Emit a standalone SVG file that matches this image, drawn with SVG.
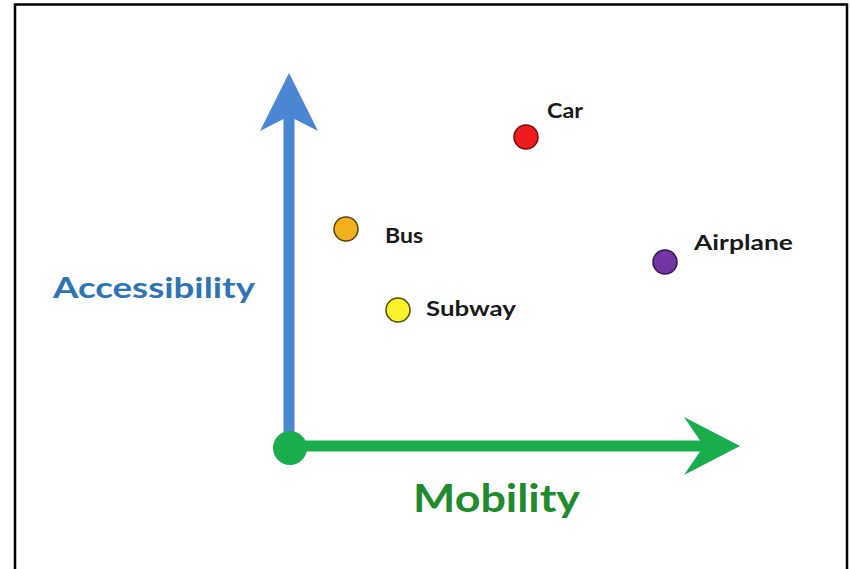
<svg xmlns="http://www.w3.org/2000/svg" width="850" height="569" viewBox="0 0 850 569">
  <style>
    .label { font-family: Lato, "Liberation Sans", sans-serif; font-weight: bold; font-size: 20px; fill: #1a1a1a; }
    .axis-label { font-family: Lato, "Liberation Sans", sans-serif; font-weight: bold; }
    .dot { stroke-width: 1.5; }
  </style>
  <rect x="0" y="0" width="850" height="569" fill="#ffffff"/>
  <!-- frame -->
  <rect x="15" y="4.5" width="832" height="600" fill="none" stroke="#000000" stroke-width="2.5"/>

  <g id="axes">
    <!-- vertical axis: accessibility -->
    <path id="axis-accessibility" d="M289,73 L318,131 L294.5,119 L294.5,446 L283.5,446 L283.5,119 L260,131 Z" fill="#4a86d1"/>
    <!-- horizontal axis: mobility -->
    <path id="axis-mobility" d="M740,446 L684,417 L700,440.5 L289,440.5 L289,451.5 L700,451.5 L684,475 Z" fill="#1aad4b"/>
    <circle id="origin" cx="290" cy="448" r="17" fill="#1aad4b"/>
  </g>

  <g id="axis-titles">
    <text class="axis-label" x="53" y="298" font-size="29" fill="#2e75b6" textLength="202" lengthAdjust="spacingAndGlyphs">Accessibility</text>
    <text class="axis-label" x="413" y="512" font-size="39" fill="#1e8b2c" textLength="167" lengthAdjust="spacingAndGlyphs">Mobility</text>
  </g>

  <g id="car">
    <circle class="dot" cx="526" cy="137" r="12" fill="#ee1c1c" stroke="#7a0a0a"/>
    <text class="label" x="547" y="118" textLength="36" lengthAdjust="spacingAndGlyphs">Car</text>
  </g>
  <g id="bus">
    <circle class="dot" cx="346" cy="229" r="12" fill="#f2b01e" stroke="#5a4306"/>
    <text class="label" x="385" y="243" textLength="38" lengthAdjust="spacingAndGlyphs">Bus</text>
  </g>
  <g id="subway">
    <circle class="dot" cx="398" cy="310" r="12" fill="#fbf22b" stroke="#4e4a0a"/>
    <text class="label" x="426" y="316" textLength="90" lengthAdjust="spacingAndGlyphs">Subway</text>
  </g>
  <g id="airplane">
    <circle class="dot" cx="665" cy="262" r="12" fill="#7434a3" stroke="#33164d"/>
    <text class="label" x="694" y="250" textLength="99" lengthAdjust="spacingAndGlyphs">Airplane</text>
  </g>
</svg>
